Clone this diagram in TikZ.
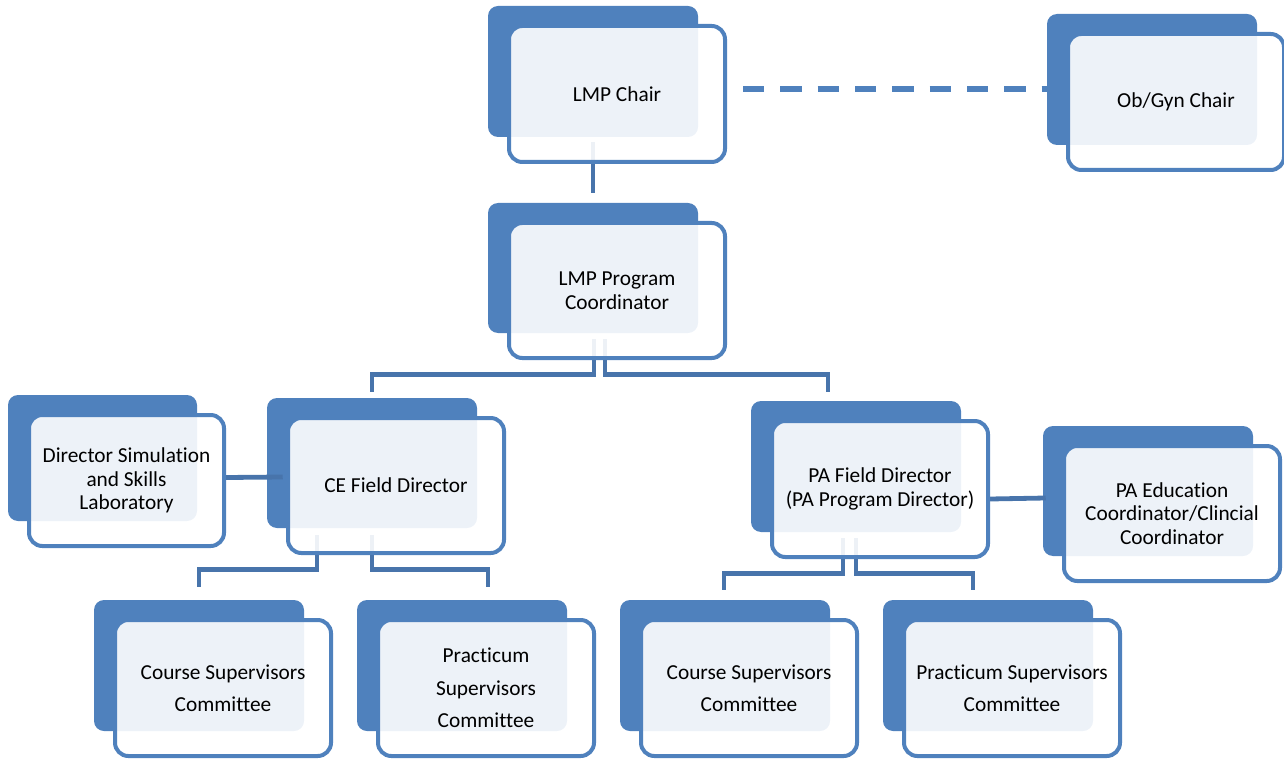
\documentclass[tikz,border=0pt]{standalone}
\usepackage{fontspec}
\newfontfamily\lblfont{Carlito}[Ligatures=NoCommon]
\usetikzlibrary{fit,calc}
\definecolor{bk}{RGB}{79,129,189}
\definecolor{cn}{RGB}{72,116,171}
\pgfdeclarelayer{back}
\pgfdeclarelayer{conn}
\pgfsetlayers{back,conn,main}
\tikzset{
  backbox/.style={fill=bk, draw=none, rounded corners=7.5pt, inner sep=0pt},
  frontbox/.style={draw=bk, line width=3pt, fill=white, fill opacity=0.9,
    rounded corners=10pt, inner sep=0pt},
  lbl/.style={align=center, text=black, inner sep=0pt},
  conn/.style={draw=cn, line width=3.6pt},
  dashconn/.style={draw=bk, line width=3.8pt, dash pattern=on 16pt off 12pt},
}
\newcommand\orgbox[7][17.8]{%
  \begin{pgfonlayer}{back}
    \node[backbox, fit={(#3,#4) (#3+#5,#4+#6)}] (#2b) {};
  \end{pgfonlayer}
  \node[frontbox, fit={(#3+21,#4+20) (#3+#5+27,#4+#6+25)}] (#2) {};
  \node[lbl, font=\lblfont\fontsize{16}{#1}\selectfont] (#2t) at (#2.center) {#7};
}
\begin{document}
\begin{tikzpicture}[x=0.75pt,y=-0.75pt]
\useasboundingbox (0,0) rectangle (1284,759);
\orgbox{chair}{488}{6}{210}{131}{LMP Chair}
\orgbox{obgyn}{1047}{14}{210}{131}{Ob/Gyn Chair}
\orgbox{prog}{488}{203}{210}{130}{LMP Program\\Coordinator}
\orgbox{dir}{8}{395}{189}{126}{Director Simulation\\and Skills\\Laboratory}
\orgbox{ce}{267}{398}{210}{130}{CE Field Director}
\orgbox{pa}{751}{401}{210}{131}{PA Field Director\\(PA Program Director)}
\orgbox{edu}{1043}{426}{210}{130}{PA Education\\Coordinator/Clincial\\Coordinator}
\orgbox[24.3]{csa}{94}{600}{210}{131}{Course Supervisors\\Committee}
\orgbox[24.3]{pra}{357}{600}{210}{131}{Practicum\\Supervisors\\Committee}
\orgbox[24.3]{csb}{620}{600}{210}{131}{Course Supervisors\\Committee}
\orgbox[24.3]{prb}{883}{600}{210}{131}{Practicum Supervisors\\Committee}
\begin{pgfonlayer}{conn}
  \draw[conn] ($(chairb.south)+(0,5)$) -- ($(progb.north)+(0,-10)$);
  \draw[dashconn] ($(chair.east)+(16,-5)$) -- ($(obgynb.west)+(14,9.5)$);
  \draw[conn] ($(progb.south)+(1,6)$) -- ++(0,35) -| ($(ceb.north)+(0,-6)$);
  \draw[conn] ($(progb.south)+(12,6)$) -- ++(0,35) -| ($(pab.north)+(-28,-9)$);
  \draw[conn] ($(dir.east)+(0,-3)$) -- ($(ceb.west)+(16,14)$);
  \draw[conn] ($(pa.east)+(0,10)$) -- ($(edub.west)+(3,7)$);
  \draw[conn] ($(ceb.south)+(-55,7)$) -- ++(0,34) -| ($(csab.north)+(0,-13)$);
  \draw[conn] ($(ceb.south)+(0,7)$) -- ++(0,34) -| ($(prab.north)+(26,-13)$);
  \draw[conn] ($(pab.south)+(-13,6)$) -- ++(0,35) -| ($(csbb.north)+(-1,-10)$);
  \draw[conn] ($(pab.south)+(0,6)$) -- ++(0,35) -| ($(prbb.north)+(-15,-10)$);
\end{pgfonlayer}
\end{tikzpicture}
\end{document}
